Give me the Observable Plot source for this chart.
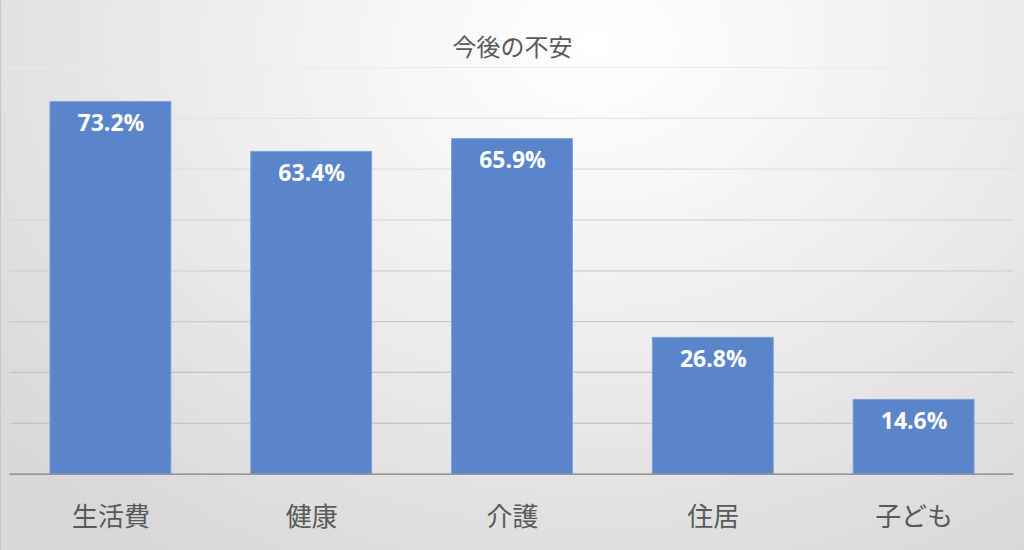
<!DOCTYPE html>
<html><head><meta charset="utf-8">
<script src="https://cdn.jsdelivr.net/npm/d3@7"></script>
<script src="https://cdn.jsdelivr.net/npm/@observablehq/plot@0.6"></script>
<style>
html,body{margin:0;padding:0;}
#wrap{width:1024px;height:550px;position:relative;overflow:hidden;
 background:radial-gradient(ellipse 75% 110% at 58% 8%, #ffffff 0%, #f3f3f3 35%, #d8d8d8 100%);
 border-left:1px solid #c8c8c8;box-sizing:border-box;
 font-family:"Noto Sans CJK JP","Noto Sans",sans-serif;}
#title{height:60px;line-height:92px;text-align:center;font-size:24px;color:#595959;}
#wrap svg{display:block;background:transparent;}
</style></head>
<body><div id="wrap"><div id="title">今後の不安</div></div>
<script>
const categories = ["生活費","健康","介護","住居","子ども"];
const values = [73.2, 63.4, 65.9, 26.8, 14.6];
const labels = ["73.2%","63.4%","65.9%","26.8%","14.6%"];
const gridTicks = [10,20,30,40,50,60,70,80];

const data = categories.map((c,i)=>({cat:c, v:values[i], label:labels[i]}));
const gridColor = d3.interpolateRgb("#bcbcbc", "#ebebeb");

const chart = Plot.plot({
  width: 1024,
  height: 490,
  marginTop: 7,
  marginBottom: 76,
  marginLeft: 8.5,
  marginRight: 10.5,
  style: {background:"transparent", fontFamily:"'Noto Sans CJK JP', sans-serif"},
  x: {domain: categories, paddingInner: 0.4, paddingOuter: 0.2, label: null},
  y: {domain: [0, 80], axis: null},
  marks: [
    Plot.ruleY(gridTicks, {stroke: d => gridColor((d - 10) / 70), strokeWidth:1.2}),
    Plot.barY(data, {x:"cat", y:"v", fill:"#5b85cb", stroke:"#7fa0da", strokeWidth:1}),
    Plot.ruleY([0], {stroke:"#7f7f7f", strokeWidth:1.3}),
    Plot.text(data, {x:"cat", y:"v", text:"label", dy:22, fill:"white", fontWeight:"bold", fontSize:23,
      fontFamily:"'Open Sans', 'Noto Sans', sans-serif"}),
    Plot.axisX({tickSize:0, tickPadding:33, fontSize:26, fill:"#595959", label:null,
      fontFamily:"'Noto Sans CJK JP', sans-serif"})
  ]
});
document.getElementById("wrap").appendChild(chart);
</script>
</body></html>
